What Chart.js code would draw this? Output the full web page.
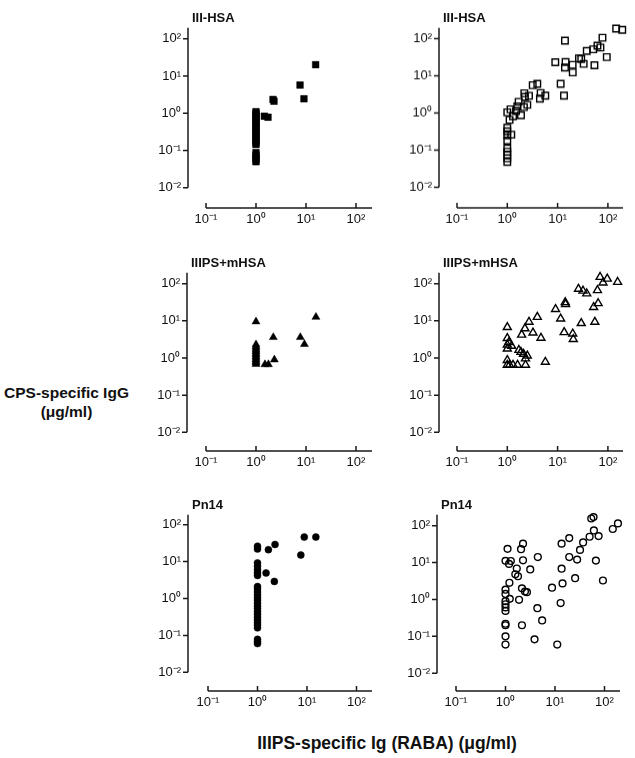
<!DOCTYPE html>
<html>
<head>
<meta charset="utf-8">
<title>CPS-specific IgG vs IIIPS-specific Ig</title>
<script src="https://cdn.jsdelivr.net/npm/chart.js@4.4.1/dist/chart.umd.min.js"></script>
<style>
    html, body { margin: 0; padding: 0; background: #fff; }
    #page {
        position: relative;
        width: 635px;
        height: 758px;
        overflow: hidden;
        font-family: "Liberation Sans", Arial, Helvetica, sans-serif;
        color: #111;
    }
    #page canvas { position: absolute; }
    .panel-title {
        position: absolute;
        font-weight: bold;
        font-size: 13px;
        line-height: 13px;
        white-space: nowrap;
    }
    .y-title {
        position: absolute;
        left: 0;
        top: 383px;
        width: 133px;
        text-align: center;
        font-weight: bold;
        font-size: 15.5px;
        line-height: 19px;
    }
    .x-title {
        position: absolute;
        left: 187px;
        top: 733px;
        width: 400px;
        text-align: center;
        font-weight: bold;
        font-size: 17.5px;
        line-height: 20px;
        white-space: nowrap;
    }
</style>
</head>
<body>
<div id="page">
    <div class="y-title">CPS-specific IgG<br>(μg/ml)</div>
    <div class="x-title">IIIPS-specific Ig (RABA) (μg/ml)</div>
</div>
<script>
// ============================================
// DATA
// ============================================

const xTickVals = [0.1, 1, 10, 100];
const xTickLabels = ['10⁻¹', '10⁰', '10¹', '10²'];
const yTickVals = [0.01, 0.1, 1, 10, 100];
const yTickLabels = ['10⁻²', '10⁻¹', '10⁰', '10¹', '10²'];

const panelTitles = ['III-HSA', 'III-HSA', 'IIIPS+mHSA', 'IIIPS+mHSA', 'Pn14', 'Pn14'];

// III-HSA, filled squares (left)
const hsaFilledX = [1, 1, 1, 1, 1, 1, 1, 1, 1, 1, 1, 1, 1, 1, 1, 1, 1, 1, 1, 1, 1, 1,
    1.47, 1.74, 2.19, 2.29, 7.6, 9.1, 15.6];
const hsaFilledY = [1.1, 1.0, 0.9, 0.8, 0.7, 0.62, 0.55, 0.48, 0.42, 0.37, 0.32, 0.28, 0.24, 0.21, 0.18, 0.16, 0.145,
    0.088, 0.075, 0.065, 0.056, 0.05,
    0.83, 0.78, 2.34, 2.1, 5.7, 2.44, 20];

// III-HSA, open squares (right)
const hsaOpenX = [146, 193, 78, 14, 62, 71, 51, 38, 95,
    26.6, 29.5, 9.0, 14.4, 19.9, 33, 54, 14, 20,
    11.5, 3.2, 3.95, 13.4, 2.18, 4.6, 2.7, 5.7, 4.45,
    2.24, 1.68, 2.5, 1.58, 2.14, 1.16, 1.49, 1.0, 1.3,
    1.87, 1.11, 1.2,
    1, 1, 1, 1, 1, 1, 1, 1, 1];
const hsaOpenY = [187, 173, 106, 89, 65, 58, 52, 47, 32,
    29.6, 28.5, 23.2, 23.6, 19.7, 21, 19.3, 16.8, 12.4,
    6.1, 5.6, 6.1, 2.93, 3.4, 3.45, 2.9, 2.93, 2.44,
    2.7, 2.0, 1.66, 1.5, 1.44, 1.25, 1.13, 1.04, 0.82,
    0.87, 0.65, 0.26,
    0.4, 0.32, 0.25, 0.18, 0.11, 0.09, 0.075, 0.06, 0.048];

// IIIPS+mHSA, filled triangles (left)
const mhsaFilledX = [1, 15.8, 2.22, 7.7, 9.3, 2.33, 1.51, 1.77,
    1, 1, 1, 1, 1, 1, 1, 1, 1, 1, 1, 1, 1];
const mhsaFilledY = [9.5, 12.6, 3.6, 3.6, 2.34, 0.9, 0.67, 0.67,
    2.3, 2.05, 1.85, 1.65, 1.5, 1.35, 1.22, 1.1, 1.0, 0.9, 0.82, 0.75, 0.68];

// IIIPS+mHSA, open triangles (right)
const mhsaOpenX = [70, 97, 80, 156, 26, 32, 38, 62,
    14.2, 14.4, 64, 52, 9.1, 3.95, 11.5, 2.7,
    29.5, 55, 1.0, 2.24, 1.93, 3.24, 4.67, 13.5,
    20, 20.5, 1.0, 1.08, 1.22, 1.0, 1.0, 1.7,
    1.87, 2.1, 2.5, 2.3, 5.7, 1.0, 1.0, 1.11,
    1.3, 1.6, 2.3];
const mhsaOpenY = [150, 135, 106, 110, 72, 64, 54, 66,
    31.4, 27.9, 29.5, 23.2, 20.5, 12.6, 11.4, 9.3,
    8.6, 9.3, 6.7, 6.2, 4.2, 4.8, 3.45, 4.9,
    4.5, 3.2, 3.4, 2.65, 2.1, 2.25, 1.77, 1.63,
    1.44, 1.28, 1.15, 0.96, 0.78, 0.87, 0.65, 0.65,
    0.65, 0.65, 0.65];

// Pn14, filled circles (left)
const pn14FilledX = [8.8, 15.1, 7.5, 2.26, 1.66, 1.49, 2.19,
    1, 1, 1, 1, 1, 1, 1, 1, 1, 1, 1, 1, 1, 1, 1, 1, 1, 1, 1, 1, 1, 1, 1, 1, 1, 1];
const pn14FilledY = [46, 46, 15, 29, 21, 4.9, 2.9,
    26, 22, 9.2, 7.5, 6, 5, 4.2,
    2.1, 1.8, 1.5, 1.25, 1.05, 0.9, 0.75, 0.63, 0.53, 0.44, 0.37, 0.31, 0.26, 0.22, 0.19, 0.16,
    0.078, 0.068, 0.06];

// Pn14, open circles (right)
const pn14OpenX = [54, 60, 187, 147, 61, 76, 50, 19.4, 37, 13.6,
    32, 1.1, 2.26, 2.06, 4.5, 19.4, 28, 67, 1, 1.28,
    1.18, 2.26, 1.69, 3.16, 13.6, 1.58, 1.79, 25.5, 93, 1.2,
    14.2, 8.7, 2.15, 2.47, 2.71, 1, 1, 1.88, 1.22, 1,
    1, 1, 1, 13, 4.4, 5.5, 1, 1, 2.15, 1,
    3.86, 1, 11.1];
const pn14OpenY = [156, 170, 115, 81, 74, 52, 50, 46, 35, 32.5,
    22, 23.5, 32.5, 23, 14.1, 14.1, 12, 11.3, 11.1, 11,
    9.2, 11.5, 6.9, 6.5, 6.8, 4.8, 4.25, 3.76, 3.26, 2.83,
    2.72, 2.08, 2.0, 1.63, 1.57, 1.84, 1.41, 0.98, 1.04, 0.9,
    0.74, 0.61, 0.49, 0.8, 0.58, 0.27, 0.22, 0.2, 0.2, 0.1,
    0.083, 0.06, 0.06];

// ============================================
// LAYOUT
// ============================================

const FONT = '"Liberation Sans", Arial, Helvetica, sans-serif';
const AXIS_COLOR = '#1a1a1a';
const TICK_LEN = 5;
const Y_AXIS_W = 60;
const X_AXIS_H = 30;
const PAD_TOP = 12;
const PAD_RIGHT = 8;

// axisX: y-axis line, x0: pixel of 10^-1, xEnd: end of x-axis,
// top: top of y-axis, y2 / ym2: pixels of 10^2 and 10^-2, axisY: x-axis line
const panels = [
    { xs: hsaFilledX, ys: hsaFilledY, marker: 'rect', filled: true, radius: 4.7,
      box: { axisX: 188, x0: 206, decX: 50, xEnd: 372, top: 25, y2: 36, ym2: 187.5, axisY: 208 } },
    { xs: hsaOpenX, ys: hsaOpenY, marker: 'rect', filled: false, radius: 4.6,
      box: { axisX: 439, x0: 457, decX: 50.3, xEnd: 623, top: 25, y2: 36, ym2: 186.5, axisY: 207.5 } },
    { xs: mhsaFilledX, ys: mhsaFilledY, marker: 'triangle', filled: true, radius: 4.6,
      box: { axisX: 187, x0: 206, decX: 50, xEnd: 372, top: 270, y2: 281, ym2: 432, axisY: 451 } },
    { xs: mhsaOpenX, ys: mhsaOpenY, marker: 'triangle', filled: false, radius: 4.6,
      box: { axisX: 439, x0: 457, decX: 50.3, xEnd: 623, top: 270, y2: 281, ym2: 432, axisY: 451 } },
    { xs: pn14FilledX, ys: pn14FilledY, marker: 'circle', filled: true, radius: 3.5,
      box: { axisX: 188, x0: 208, decX: 49.5, xEnd: 372, top: 512, y2: 522, ym2: 672, axisY: 691 } },
    { xs: pn14OpenX, ys: pn14OpenY, marker: 'circle', filled: false, radius: 3.4,
      box: { axisX: 437, x0: 456, decX: 49.5, xEnd: 620, top: 512, y2: 523, ym2: 673, axisY: 691 } }
];

// ============================================
// AXES PLUGIN (detached axis lines, inward x ticks)
// ============================================

const axisLinesPlugin = {
    id: 'axisLines',
    afterDraw(chart) {
        const { ctx, chartArea, scales } = chart;
        const xs = scales.x;
        const ys = scales.y;
        ctx.save();
        ctx.strokeStyle = AXIS_COLOR;
        ctx.lineWidth = 1.5;
        ctx.beginPath();

        // y axis
        const ax = chartArea.left;
        ctx.moveTo(ax, chartArea.top);
        ctx.lineTo(ax, ys.getPixelForValue(yTickVals[0]));
        yTickVals.forEach(v => {
            const py = ys.getPixelForValue(v);
            ctx.moveTo(ax - TICK_LEN, py);
            ctx.lineTo(ax, py);
        });

        // x axis
        const ay = chartArea.bottom;
        ctx.moveTo(xs.getPixelForValue(xTickVals[0]), ay);
        ctx.lineTo(chartArea.right, ay);
        xTickVals.forEach(v => {
            const px = xs.getPixelForValue(v);
            ctx.moveTo(px, ay);
            ctx.lineTo(px, ay - TICK_LEN);
        });

        ctx.stroke();
        ctx.restore();
    }
};

// ============================================
// PANELS
// ============================================

function toPoints(xs, ys) {
    return xs.map((x, i) => ({ x: x, y: ys[i] }));
}

function makePanel(p, idx) {
    const page = document.getElementById('page');
    const b = p.box;
    const decY = (b.ym2 - b.y2) / 4;

    const xMin = Math.pow(10, -1 - (b.x0 - b.axisX) / b.decX);
    const xMax = Math.pow(10, -1 + (b.xEnd - b.x0) / b.decX);
    const yMax = Math.pow(10, 2 + (b.y2 - b.top) / decY);
    const yMin = Math.pow(10, -2 - (b.axisY - b.ym2) / decY);

    const left = b.axisX - Y_AXIS_W;
    const top = b.top - PAD_TOP;
    const width = b.xEnd + PAD_RIGHT - left;
    const height = b.axisY + X_AXIS_H - top;

    const canvas = document.createElement('canvas');
    canvas.width = width;
    canvas.height = height;
    canvas.style.left = left + 'px';
    canvas.style.top = top + 'px';
    canvas.style.width = width + 'px';
    canvas.style.height = height + 'px';
    page.appendChild(canvas);

    // panel title
    const t = document.createElement('div');
    t.className = 'panel-title';
    t.textContent = panelTitles[idx];
    t.style.left = (b.axisX + 4) + 'px';
    t.style.top = (b.top - 14) + 'px';
    page.appendChild(t);

    const tickFont = { family: FONT, size: 13 };

    new Chart(canvas, {
        type: 'scatter',
        data: {
            datasets: [{
                data: toPoints(p.xs, p.ys),
                pointStyle: p.marker,
                pointRadius: p.radius,
                pointHoverRadius: p.radius,
                pointBackgroundColor: p.filled ? '#000' : 'rgba(0,0,0,0)',
                pointBorderColor: '#000',
                pointBorderWidth: p.filled ? 0.5 : 1.4,
                clip: false
            }]
        },
        options: {
            responsive: false,
            animation: false,
            devicePixelRatio: 1,
            events: [],
            layout: { padding: { top: PAD_TOP, right: PAD_RIGHT, left: 0, bottom: 0 } },
            plugins: {
                legend: { display: false },
                title: { display: false },
                tooltip: { enabled: false }
            },
            scales: {
                x: {
                    type: 'logarithmic',
                    position: 'bottom',
                    min: xMin,
                    max: xMax,
                    grid: { display: false, drawTicks: false },
                    border: { display: false },
                    afterBuildTicks: s => { s.ticks = xTickVals.map(v => ({ value: v })); },
                    afterFit: s => { s.height = X_AXIS_H; },
                    ticks: {
                        autoSkip: false,
                        maxRotation: 0,
                        padding: 4,
                        color: '#111',
                        font: tickFont,
                        callback: (v, i) => xTickLabels[i]
                    }
                },
                y: {
                    type: 'logarithmic',
                    position: 'left',
                    min: yMin,
                    max: yMax,
                    grid: { display: false, drawTicks: false },
                    border: { display: false },
                    afterBuildTicks: s => { s.ticks = yTickVals.map(v => ({ value: v })); },
                    afterFit: s => { s.width = Y_AXIS_W; },
                    ticks: {
                        autoSkip: false,
                        padding: 7,
                        color: '#111',
                        font: tickFont,
                        callback: (v, i) => yTickLabels[i]
                    }
                }
            }
        },
        plugins: [axisLinesPlugin]
    });
}

panels.forEach(makePanel);
</script>
</body>
</html>
